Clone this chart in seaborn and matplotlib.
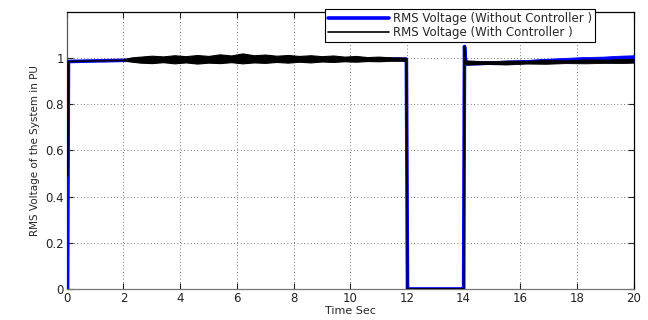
import numpy as np
import pandas as pd
import matplotlib
matplotlib.use("Agg")
import matplotlib.pyplot as plt
import seaborn as sns

# ---- data ----
t_without = [0.0, 0.03, 0.06, 2.0, 6.0, 11.98, 12.0, 12.02, 13.98, 14.0, 14.03, 14.08, 16.0, 18.0, 20.0]
v_without = [0.0, 0.0, 0.985, 0.99, 0.995, 0.995, 0.5, 0.0, 0.0, 0.0, 1.05, 0.975, 0.982, 0.99, 1.0]

t_with = [0.0, 0.03, 0.06, 2.0, 6.0, 11.98, 12.0, 12.02, 13.98, 14.0, 14.03, 14.08, 16.0, 18.0, 20.0]
v_with = [0.49, 0.49, 0.985, 0.99, 0.995, 0.995, 0.5, 0.0, 0.0, 0.0, 1.05, 0.975, 0.98, 0.985, 0.99]

# noise envelope of the controlled response (2 s to 12 s)
band_t = [2.0, 2.3, 2.6, 3.0, 3.4, 3.8, 4.2, 4.6, 5.0, 5.4, 5.8, 6.2, 6.6, 7.0,
          7.4, 7.8, 8.2, 8.6, 9.0, 9.4, 9.8, 10.2, 10.6, 11.0, 11.4, 11.95]
band_lo = [0.99, 0.984, 0.98, 0.978, 0.982, 0.977, 0.981, 0.976, 0.98, 0.978, 0.982,
           0.977, 0.981, 0.979, 0.983, 0.98, 0.984, 0.981, 0.985, 0.983, 0.986,
           0.984, 0.987, 0.986, 0.988, 0.988]
band_hi = [0.995, 1.003, 1.006, 1.01, 1.007, 1.012, 1.008, 1.013, 1.009, 1.016,
           1.011, 1.02, 1.012, 1.015, 1.01, 1.013, 1.009, 1.012, 1.008, 1.011,
           1.006, 1.009, 1.004, 1.006, 1.003, 1.002]

# noise envelope of the controlled response after the fault
band2_t = [14.1, 14.8, 15.5, 16.2, 16.9, 17.6, 18.3, 19.0, 19.6, 20.0]
band2_lo = [0.972, 0.974, 0.972, 0.976, 0.975, 0.978, 0.977, 0.979, 0.978, 0.98]
band2_hi = [0.99, 0.986, 0.989, 0.988, 0.992, 0.99, 0.994, 0.993, 0.996, 0.997]

# blue noise envelope after the fault
bband_t = [14.1, 15.0, 16.0, 16.8, 17.5, 18.2, 18.9, 19.5, 20.0]
bband_lo = [0.972, 0.974, 0.977, 0.98, 0.982, 0.982, 0.984, 0.985, 0.985]
bband_hi = [0.985, 0.986, 0.99, 0.996, 1.0, 1.004, 1.006, 1.01, 1.012]

x_ticks = [0, 2, 4, 6, 8, 10, 12, 14, 16, 18, 20]
y_ticks = [0, 0.2, 0.4, 0.6, 0.8, 1.0]
y_tick_labels = ["0", "0.2", "0.4", "0.6", "0.8", "1"]

label_without = "RMS Voltage (Without Controller )"
label_with = "RMS Voltage (With Controller )"

# ---- plot ----
sns.set_theme(style="white")
plt.rcParams["font.family"] = ["DejaVu Sans"]

fig = plt.figure(figsize=(6.48, 3.2), dpi=100)
ax = fig.add_axes([0.103, 0.097, 0.875, 0.866])

df_wo = pd.DataFrame({"t": t_without, "v": v_without})
df_w = pd.DataFrame({"t": t_with, "v": v_with})

sns.lineplot(data=df_wo, x="t", y="v", ax=ax, color="#0000ff", lw=2.6,
             label=label_without, sort=False, estimator=None, zorder=3)
ax.fill_between(bband_t, bband_lo, bband_hi, color="#0000ff", lw=0.6, zorder=3)
sns.lineplot(data=df_w, x="t", y="v", ax=ax, color="black", lw=1.2,
             label=label_with, sort=False, estimator=None, zorder=4)
ax.fill_between(band_t, band_lo, band_hi, color="black", lw=0.8, zorder=4)
ax.fill_between(band2_t, band2_lo, band2_hi, color="black", lw=0.6, zorder=4)

ax.set_xlim(0, 20)
ax.set_ylim(0, 1.2)
ax.set_xticks(x_ticks)
ax.set_xticklabels([str(v) for v in x_ticks])
ax.set_yticks(y_ticks)
ax.set_yticklabels(y_tick_labels)
ax.grid(True, linestyle=(0, (1, 3)), color="black", lw=0.6, alpha=0.7)
ax.set_axisbelow(True)

ax.tick_params(axis="both", direction="in", length=4, width=0.8, labelsize=8.5,
               colors="#222222", top=True, right=True, bottom=True, left=True,
               pad=2)
for s in ["top", "right", "left", "bottom"]:
    ax.spines[s].set_visible(True)
    ax.spines[s].set_linewidth(0.9)
ax.spines["top"].set_color("black")
ax.spines["right"].set_color("black")
ax.spines["left"].set_color("#555555")
ax.spines["bottom"].set_color("#777777")

ax.set_xlabel("Time Sec", fontsize=8, labelpad=1)
ax.set_ylabel("RMS Voltage of the System in PU", fontsize=7.5, labelpad=4)

leg = ax.legend(loc="upper left", bbox_to_anchor=(0.455, 1.01), fontsize=8.5,
                frameon=True, fancybox=False, borderpad=0.25, labelspacing=0.1,
                handlelength=5.2, handletextpad=0.3, borderaxespad=0.0)
leg.get_frame().set_edgecolor("black")
leg.get_frame().set_linewidth(0.8)
leg.get_frame().set_alpha(1)
leg.set_zorder(10)

fig.savefig("out.png", dpi=100)
